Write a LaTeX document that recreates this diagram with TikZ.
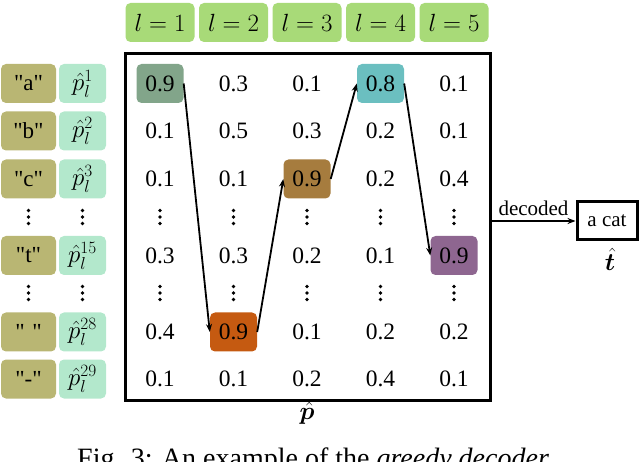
\documentclass[tikz,border=0pt]{standalone}
\usepackage{amsmath}
\usepackage{bm}
\usepackage{fontspec}
\setmainfont[Ligatures=TeXOff]{Liberation Serif}
\usetikzlibrary{arrows.meta}
\definecolor{hdrgreen}{HTML}{A8DA78}
\definecolor{olivebox}{HTML}{B9B673}
\definecolor{mintbox}{HTML}{B3E8CC}
\definecolor{hA}{HTML}{82A58A}
\definecolor{hB}{HTML}{C55A11}
\definecolor{hC}{HTML}{A67C3E}
\definecolor{hD}{HTML}{6BBFC0}
\definecolor{hE}{HTML}{8E6690}
\newcommand\myfs[1]{\fontsize{#1}{#1}\selectfont}
\begin{document}
\begin{tikzpicture}[x=1pt,y=-1pt,
  hdr/.style={fill=hdrgreen, rounded corners=5pt, minimum width=69pt, minimum height=39pt, inner sep=0pt, font=\myfs{24}},
  lab/.style={fill=olivebox, rounded corners=5pt, minimum width=55pt, minimum height=39pt, inner sep=0pt, font=\myfs{23}},
  pl/.style={fill=mintbox, rounded corners=5pt, minimum width=47pt, minimum height=39pt, inner sep=0pt, font=\myfs{25}},
  hl/.style={fill=#1, rounded corners=5pt, minimum width=47pt, minimum height=39pt, inner sep=0pt, font=\myfs{23.5}},
  cell/.style={inner sep=0pt, font=\myfs{23.5}},
  dotc/.style={fill=black, circle, inner sep=0pt, minimum size=3.6pt},
  arr/.style={line width=1.8pt, -{Stealth[length=8pt,width=6pt]}}]
\useasboundingbox (0,0) rectangle (640,462);
% headers
\foreach \i in {1,...,5}{
  \node[hdr] (hd\i) at ({160+(\i-1)*73.5},22.5) {$l=\i$};
}
% main rectangle
\node[draw, line width=3pt, minimum width=365pt, minimum height=346pt, inner sep=0pt] (P) at (307.5,227) {};
% left labels
\node[lab] (la) at (28.5,83.5) {"a"};
\node[lab] (lb) at (28.5,131) {"b"};
\node[lab] (lc) at (28.5,179) {"c"};
\node[lab] (lt) at (28.5,255.5) {"t"};
\node[lab] (ls) at (28.5,332) {"\,\,"};
\node[lab] (ld) at (28.5,379) {"-"};
\node[pl] (pa) at (82.5,83.5) {$\hat{p}_l^{1}$};
\node[pl] (pb) at (82.5,131) {$\hat{p}_l^{2}$};
\node[pl] (pc) at (82.5,179) {$\hat{p}_l^{3}$};
\node[pl] (pt) at (82.5,255.5) {$\hat{p}_l^{15}$};
\node[pl] (ps) at (82.5,332) {$\hat{p}_l^{28}$};
\node[pl] (pd) at (82.5,379) {$\hat{p}_l^{29}$};
% highlighted maxima
\node[hl=hA] (h1) at (160,83.5) {0.9};
\node[hl=hB] (h2) at (233.5,332) {0.9};
\node[hl=hC] (h3) at (307,179) {0.9};
\node[hl=hD] (h4) at (380.5,83.5) {0.8};
\node[hl=hE] (h5) at (454,255.5) {0.9};
% numbers
\foreach \ry/\rn/\vals in {83.5/1/{,0.3,0.1,,0.1}, 131/2/{0.1,0.5,0.3,0.2,0.1}, 179/3/{0.1,0.1,,0.2,0.4}, 255.5/4/{0.3,0.3,0.2,0.1,}, 332/5/{0.4,,0.1,0.2,0.2}, 379/6/{0.1,0.1,0.2,0.4,0.1}}{
  \foreach \v [count=\ci] in \vals {
    \node[cell] (m\rn-\ci) at ({160+(\ci-1)*73.5},\ry) {\v};
  }
}
% vertical dots
\foreach \dy in {217,293}{
  \foreach \dx in {28.5,82.5,160,233.5,307,380.5,454}{
    \foreach \o in {-6.5,0,6.5}{
      \node[dotc] at (\dx,\dy+\o) {};
    }
  }
}
% greedy path
\draw[arr] (h1.east) -- (h2.west);
\draw[arr] (h2.east) -- (h3.west);
\draw[arr] (h3.east) -- (h4.west);
\draw[arr] (h4.east) -- (h5.west);
% output
\node[draw, line width=3pt, minimum width=60pt, minimum height=38pt, inner sep=0pt, font=\myfs{21}] (T) at (607,221) {a cat};
\draw[arr] (P.east |- T.west) -- (T.west) node[midway, above=1pt, font=\myfs{21}] (dec) {decoded};
\node[font=\myfs{27}] (that) at (610,259) {$\hat{\bm t}$};
\node[font=\myfs{27}] (phat) at (307,413) {$\hat{\bm p}$};
% caption (cut off at the bottom)
\node[anchor=north west, inner sep=0pt, font=\myfs{28}] (cap) at (77,448) {Fig. 3: An example of the \textit{greedy decoder}.};
\end{tikzpicture}
\end{document}
